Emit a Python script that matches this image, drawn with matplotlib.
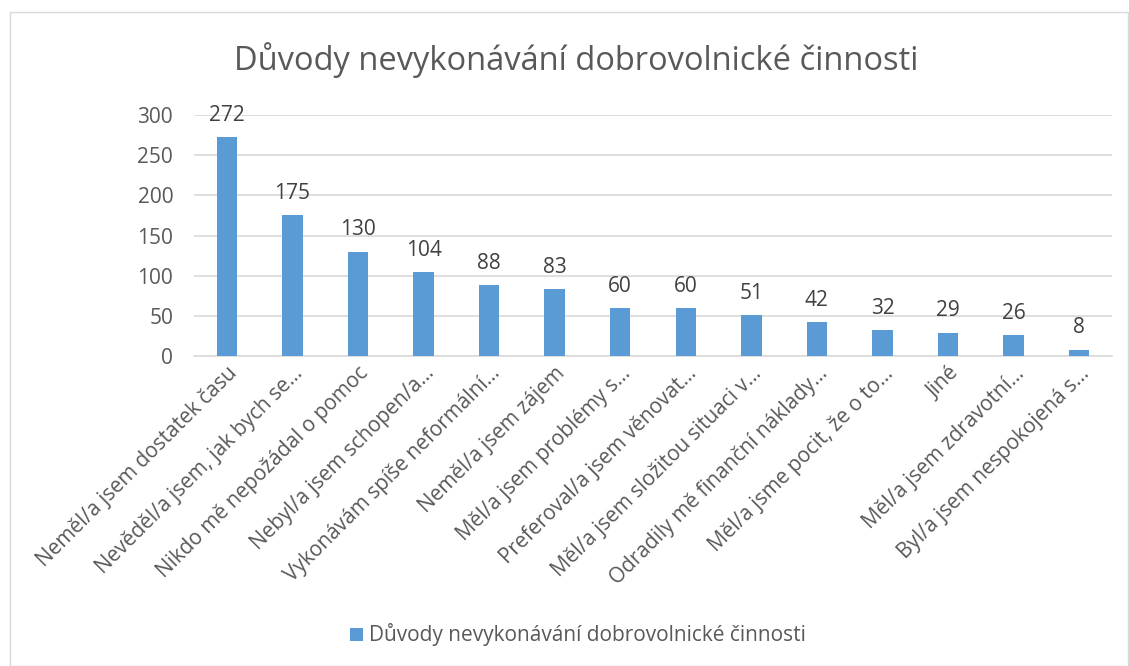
import matplotlib
matplotlib.use("Agg")
import matplotlib.pyplot as plt
from matplotlib.patches import Rectangle

categories = [
    "Neměl/a jsem dostatek času",
    "Nevěděl/a jsem, jak bych se…",
    "Nikdo mě nepožádal o pomoc",
    "Nebyl/a jsem schopen/a…",
    "Vykonávám spíše neformální…",
    "Neměl/a jsem zájem",
    "Měl/a jsem problémy s…",
    "Preferoval/a jsem věnovat…",
    "Měl/a jsem složitou situaci v…",
    "Odradily mě finanční náklady…",
    "Měl/a jsme pocit, že o to…",
    "Jiné",
    "Měl/a jsem zdravotní…",
    "Byl/a jsem nespokojená s…",
]
values = [272, 175, 130, 104, 88, 83, 60, 60, 51, 42, 32, 29, 26, 8]
yticks = [0, 50, 100, 150, 200, 250, 300]
title = "Důvody nevykonávání dobrovolnické činnosti"

plt.rcParams['font.family'] = ['Open Sans', 'DejaVu Sans']
W, H = 1129, 666
fig = plt.figure(figsize=(W/100, H/100), dpi=100)
ax = fig.add_axes([194/W, 1-356/H, (1112-194)/W, (356-115)/H])

bar_color = "#5B9BD5"
text_color = "#595959"
x = list(range(len(categories)))
bars = ax.bar(x, values, width=0.31, color=bar_color, zorder=3, label=title)
for xi, v in zip(x, values):
    ax.text(xi, v + 14, str(v), ha='center', va='bottom', fontsize=15, color="#404040")

ax.set_xlim(-0.5, len(categories) - 0.5)
ax.set_ylim(0, 300)
ax.set_yticks(yticks)
ax.yaxis.grid(True, color="#d9d9d9", linewidth=1.2, zorder=0)
ax.set_axisbelow(True)
for s in ['top', 'right', 'left']:
    ax.spines[s].set_visible(False)
ax.spines['bottom'].set_color("#d9d9d9")
ax.spines['bottom'].set_linewidth(1.2)
ax.tick_params(axis='both', length=0, colors=text_color, labelsize=15)
ax.tick_params(axis='y', pad=15)
ax.set_xticks(x)
ax.set_xticklabels(categories, rotation=45, ha='right', rotation_mode='anchor', fontsize=15, color=text_color)
ax.tick_params(axis='x', pad=5)

fig.text(576/W, 1-60/H, title, ha='center', va='center', fontsize=23.5, color=text_color)

leg = fig.legend(handles=[bars], labels=[title], loc='center', bbox_to_anchor=(578/W, 1-635/H),
                 frameon=False, fontsize=15, handlelength=0.6, handleheight=0.6,
                 handletextpad=0.3, labelcolor=text_color)

fig.patches.append(Rectangle((10/W, 0), 1 - 10/W - 1/W, 1 - 12/H, transform=fig.transFigure,
                             fill=False, edgecolor="#d9d9d9", linewidth=1))

fig.savefig("out.png", dpi=100)
